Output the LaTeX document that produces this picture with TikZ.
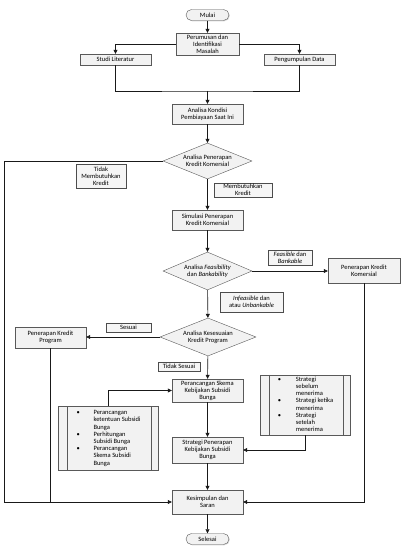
\documentclass[tikz,border=0pt]{standalone}
\usepackage{fontspec}
\setmainfont{Carlito}
\usetikzlibrary{arrows.meta, shapes.geometric, shadows}

\tikzset{
  box/.style={draw=gray!70!black, fill=gray!10, drop shadow={shadow xshift=0.8pt, shadow yshift=-0.8pt, fill=gray!60},
    align=center, inner sep=1pt, minimum width=71pt},
  term/.style={box, rounded corners=5.5pt, minimum width=43pt, minimum height=11pt},
  dec/.style={diamond, draw=gray!70!black, fill=gray!10, align=center, inner sep=0pt, aspect=2.5},
  lbl/.style={draw=gray!60!black, fill=gray!8, align=center, inner sep=1pt},
  lst/.style={box, align=left, anchor=center},
  arr/.style={-{Triangle[width=4pt,length=4pt]}},
  ln/.style={draw=gray!20!black, line width=0.6pt}
}

\begin{document}
\begin{tikzpicture}[x=1pt, y=-1pt, font=\fontsize{6.5}{7.2}\selectfont]
\useasboundingbox (0,0) rectangle (402,548);
% alur utama
\node[term] (mulai) at (207.5,15) {Mulai};
\node[box, minimum width=63pt, minimum height=22pt] (perum) at (207.5,44) {Perumusan dan\\Identifikasi\\Masalah};
\node[box, minimum height=11pt] (studi) at (115.5,59.5) {Studi Literatur};
\node[box, minimum height=11pt] (peng) at (299.5,59.5) {Pengumpulan Data};
\coordinate (gabung) at (207.5,91);
\node[box, minimum height=20pt] (kond) at (207.5,114) {Analisa Kondisi\\Pembiayaan Saat Ini};
\node[dec, minimum width=89pt, minimum height=36pt] (d1) at (207.5,161) {Analisa Penerapan\\Kredit Komersial};
\node[box, minimum height=20pt] (sim) at (207.5,220) {Simulasi Penerapan\\Kredit Komersial};
\node[dec, minimum width=89pt, minimum height=38pt] (d2) at (207.5,271) {Analisa \textit{Feasibility}\\dan \textit{Bankability}};
\node[box, minimum width=72pt, minimum height=25pt] (pkk) at (364,270.5) {Penerapan Kredit\\Komersial};
\node[dec, minimum width=96pt, minimum height=38pt] (d3) at (208,337) {Analisa Kesesuaian\\Kredit Program};
\node[box, minimum height=21pt] (pkp) at (50.5,337.5) {Penerapan Kredit\\Program};
\node[box, minimum height=23pt] (psk) at (207.5,390.5) {Perancangan Skema\\Kebijakan Subsidi\\Bunga};
\node[box, minimum height=26pt] (str) at (207.5,450) {Strategi Penerapan\\Kebijakan Subsidi\\Bunga};
\node[box, minimum height=24pt] (kes) at (207.5,502) {Kesimpulan dan\\Saran};
\node[term] (selesai) at (207.5,539) {Selesai};
\coordinate (kiri) at (4,0);

% keterangan
\node[lbl, minimum width=50pt, minimum height=24pt] (ltidak) at (101,176) {Tidak\\Membutuhkan\\Kredit};
\node[lbl, minimum width=58pt, minimum height=14pt] (lbutuh) at (243,190) {Membutuhkan\\Kredit};
\node[lbl, minimum width=44pt, minimum height=15pt] (lfeas) at (290,257.5) {\textit{Feasible} dan\\\textit{Bankable}};
\node[lbl, minimum width=63pt, minimum height=20pt] (linfeas) at (251.5,302) {\textit{Infeasible} dan\\atau \textit{Unbankable}};
\node[lbl, minimum width=45pt, minimum height=9pt] (lsesuai) at (128.5,327.5) {Sesuai};
\node[lbl, minimum width=42pt, minimum height=9pt] (ltdk) at (179,366.5) {Tidak Sesuai};

% daftar
\node[lst, minimum width=100pt, minimum height=64pt] (lst1) at (108.5,438.5) {%
\begin{tabular}{@{}p{17pt}@{}l@{}}
\textbullet & Perancangan\\ & ketentuan Subsidi\\ & Bunga\\
\textbullet & Perhitungan\\ & Subsidi Bunga\\
\textbullet & Perancangan\\ & Skema Subsidi\\ & Bunga
\end{tabular}};
\node[lst, minimum width=90pt, minimum height=60pt] (lst2) at (305.5,405) {%
\begin{tabular}{@{}p{18pt}@{}l@{}}
\textbullet & Strategi\\ & sebelum\\ & menerima\\
\textbullet & Strategi ketika\\ & menerima\\
\textbullet & Strategi\\ & setelah\\ & menerima
\end{tabular}};
\draw[draw=gray!70!black] ([xshift=9pt]lst1.north west) -- ([xshift=9pt]lst1.south west);
\draw[draw=gray!70!black] ([xshift=-8pt]lst1.north east) -- ([xshift=-8pt]lst1.south east);
\draw[draw=gray!70!black] ([xshift=9pt]lst2.north west) -- ([xshift=9pt]lst2.south west);
\draw[draw=gray!70!black] ([xshift=-8pt]lst2.north east) -- ([xshift=-8pt]lst2.south east);

% panah
\draw[ln, arr] (mulai) -- (perum);
\draw[ln, arr] (perum.west) -| (studi.north);
\draw[ln, arr] (perum.east) -| (peng.north);
\draw[ln] (studi.south) |- (gabung) -| (peng.south);
\draw[ln, arr] (gabung) -- (kond);
\draw[ln, arr] (kond) -- (d1);
\draw[ln, arr] (d1.west) -- (d1.west -| kiri) |- (kes.west);
\draw[ln, arr] (d1) -- (sim);
\draw[ln, arr] (sim) -- (d2);
\draw[ln, arr] (d2.east) -- (d2.east -| pkk.west);
\draw[ln, arr] (pkk.south) |- (kes.east);
\draw[ln, arr] (d2) -- (d3);
\draw[ln, arr] (d3.west) -- (d3.west -| pkp.east);
\draw[ln] (pkp.south) -- (pkp.south |- kes.west);
\draw[ln, arr] (d3) -- (psk);
\draw[ln, arr] (lst1.north) |- (psk.west);
\draw[ln, arr] (psk) -- (str);
\draw[ln, arr] (lst2.south) |- (str.east);
\draw[ln, arr] (str) -- (kes);
\draw[ln, arr] (kes) -- (selesai);
\end{tikzpicture}
\end{document}
